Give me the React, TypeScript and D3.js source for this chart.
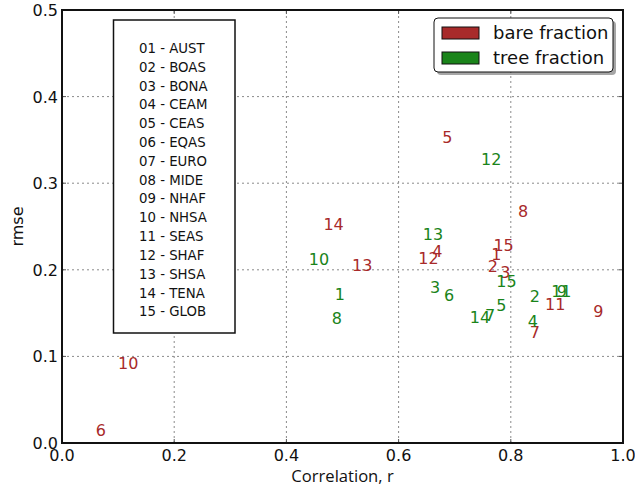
import * as d3 from "d3";
import React from "react";

// region names, numbered 01..15
const regions = [
  "AUST", "BOAS", "BONA", "CEAM", "CEAS", "EQAS", "EURO", "MIDE",
  "NHAF", "NHSA", "SEAS", "SHAF", "SHSA", "TENA", "GLOB",
];

// bare fraction: correlation and rmse per region
const bareR = [0.765, 0.759, 0.781, 0.66, 0.678, 0.06, 0.834, 0.813, 0.947, 0.1, 0.861, 0.635, 0.517, 0.466, 0.769];
const bareRmse = [0.211, 0.198, 0.19, 0.215, 0.346, 0.008, 0.121, 0.261, 0.145, 0.086, 0.154, 0.207, 0.199, 0.246, 0.222];

// tree fraction: correlation and rmse per region
const treeR = [0.486, 0.834, 0.656, 0.83, 0.774, 0.681, 0.754, 0.481, 0.882, 0.44, 0.872, 0.747, 0.643, 0.727, 0.774];
const treeRmse = [0.165, 0.163, 0.173, 0.134, 0.152, 0.164, 0.141, 0.137, 0.169, 0.206, 0.169, 0.321, 0.234, 0.139, 0.18];

const xTicks = [0, 0.2, 0.4, 0.6, 0.8, 1.0];
const yTicks = [0, 0.1, 0.2, 0.3, 0.4, 0.5];

const series = [
  { name: "bare fraction", r: bareR, rmse: bareRmse, color: "#a82a2a" },
  { name: "tree fraction", r: treeR, rmse: treeRmse, color: "#1a841a" },
];

export default function App() {
  const width = 635;
  const height = 487;
  const margin = { top: 10, right: 12, bottom: 44, left: 62 };
  const font = "'DejaVu Sans', sans-serif";

  const x = d3.scaleLinear().domain([0, 1]).range([margin.left, width - margin.right]);
  const y = d3.scaleLinear().domain([0, 0.5]).range([height - margin.bottom, margin.top]);
  const fmt = d3.format(".1f");

  const [x0, x1] = x.range();
  const [y0, y1] = y.range();

  return (
    <div style={{ position: "absolute", left: 0, top: 0 }}>
      <svg width={width} height={height} style={{ display: "block", background: "white" }}>
        {/* グリッド */}
        {xTicks.slice(1, -1).map((t) => (
          <line key={"gx" + t} x1={x(t)} x2={x(t)} y1={y0} y2={y1}
            stroke="#8a8a8a" strokeWidth={1} strokeDasharray="2,3" />
        ))}
        {yTicks.slice(1, -1).map((t) => (
          <line key={"gy" + t} x1={x0} x2={x1} y1={y(t)} y2={y(t)}
            stroke="#8a8a8a" strokeWidth={1} strokeDasharray="2,3" />
        ))}

        {/* 目盛り（内向き、四辺） */}
        {xTicks.map((t) => (
          <g key={"tx" + t}>
            <line x1={x(t)} x2={x(t)} y1={y0} y2={y0 - 4} stroke="#555" />
            <line x1={x(t)} x2={x(t)} y1={y1} y2={y1 + 4} stroke="#555" />
            <text x={x(t)} y={y0 + 18} textAnchor="middle" fontFamily={font} fontSize={16} fill="#111">
              {fmt(t)}
            </text>
          </g>
        ))}
        {yTicks.map((t) => (
          <g key={"ty" + t}>
            <line x1={x0} x2={x0 + 4} y1={y(t)} y2={y(t)} stroke="#555" />
            <line x1={x1} x2={x1 - 4} y1={y(t)} y2={y(t)} stroke="#555" />
            <text x={x0 - 4} y={y(t) + 6} textAnchor="end" fontFamily={font} fontSize={16} fill="#111">
              {fmt(t)}
            </text>
          </g>
        ))}

        {/* 地域リスト */}
        <rect x={113.5} y={20} width={121.5} height={313} fill="white" stroke="#111" strokeWidth={1.5} />
        {regions.map((name, i) => (
          <text key={name} x={139} y={53 + i * 18.81} fontFamily={font} fontSize={13.3} fill="#111">
            {`${String(i + 1).padStart(2, "0")} - ${name}`}
          </text>
        ))}

        {/* データラベル */}
        {series.map((s) =>
          s.r.map((r, i) => (
            <text key={s.name + i} x={x(r)} y={y(s.rmse[i])} fontFamily={font} fontSize={16} fill={s.color}>
              {i + 1}
            </text>
          ))
        )}

        {/* 枠 */}
        <rect x={x0} y={y1} width={x1 - x0} height={y0 - y1} fill="none" stroke="#111" strokeWidth={2} />

        {/* 凡例 */}
        <rect x={437} y={21} width={179} height={54} rx={4} fill="#000" opacity={0.35} />
        <rect x={434} y={18} width={179} height={54} rx={4} fill="white" stroke="#111" strokeWidth={1} />
        {series.map((s, i) => (
          <g key={"lg" + s.name}>
            <rect x={442} y={27 + i * 25} width={37} height={12} fill={s.color} stroke="#111" strokeWidth={1} />
            <text x={493} y={39 + i * 25} fontFamily={font} fontSize={18} fill="#111">
              {s.name}
            </text>
          </g>
        ))}

        {/* 軸ラベル */}
        <text x={(x0 + x1) / 2} y={482} textAnchor="middle" fontFamily="'Open Sans', sans-serif" fontSize={16.6} fill="#111">
          Correlation, r
        </text>
        <text transform={`translate(23,${(y0 + y1) / 2}) rotate(-90)`} textAnchor="middle" fontFamily={font} fontSize={16} fill="#111">
          rmse
        </text>
      </svg>
    </div>
  );
}
